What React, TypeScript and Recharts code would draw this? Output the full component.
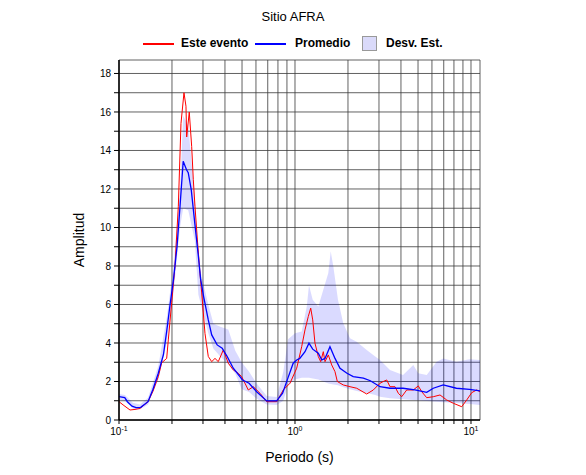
import React from "react";
import { ComposedChart, Line, Area, XAxis, YAxis, CartesianGrid } from "recharts";

const redPeriods = [0.1, 0.1067, 0.1155, 0.1233, 0.1316, 0.1462, 0.156, 0.1672, 0.1748, 0.1866, 0.1906, 0.1992, 0.208, 0.2173, 0.225, 0.234, 0.2402, 0.2424, 0.2508, 0.2588, 0.2643, 0.2702, 0.2786, 0.2886, 0.2951, 0.308, 0.3216, 0.3363, 0.3511, 0.3665, 0.3915, 0.4178, 0.446, 0.4762, 0.4979, 0.5428, 0.5795, 0.6327, 0.6905, 0.787, 0.858, 0.9367, 1.0225, 1.0915, 1.1397, 1.1902, 1.2281, 1.2608, 1.2988, 1.3563, 1.3996, 1.4481, 1.4807, 1.5461, 1.6163, 1.6876, 1.7395, 1.8806, 2.0535, 2.242, 2.5552, 2.7861, 3.0409, 3.1754, 3.3196, 3.4654, 3.6997, 3.8637, 4.0394, 4.3129, 4.7007, 5.019, 5.2472, 5.6016, 6.1066, 6.6681, 7.2778, 7.933, 8.8564, 9.454, 10.093, 10.775, 11.25];
const redValues = [0.95, 0.75, 0.52, 0.55, 0.6, 0.95, 1.5, 2.25, 2.97, 3.2, 4.16, 6.1, 8.0, 11.1, 15.4, 17.0, 16.3, 14.7, 16.0, 14.2, 12.5, 11.1, 9.4, 7.6, 6.6, 4.5, 3.3, 3.03, 3.2, 3.03, 3.64, 2.95, 2.6, 2.43, 2.25, 1.56, 1.73, 1.39, 0.95, 0.95, 1.56, 1.91, 2.69, 3.81, 4.68, 5.38, 5.81, 5.2, 3.99, 3.3, 3.03, 3.55, 3.03, 3.38, 2.86, 2.51, 2.0, 1.82, 1.73, 1.65, 1.35, 1.56, 1.91, 2.0, 2.08, 1.73, 1.73, 1.39, 1.21, 1.56, 1.56, 1.77, 1.47, 1.16, 1.21, 1.3, 1.04, 0.87, 0.69, 1.04, 1.42, 1.56, 1.47];

const bluePeriods = [0.1, 0.1078, 0.1116, 0.1186, 0.1249, 0.1328, 0.1462, 0.156, 0.1672, 0.1789, 0.1866, 0.1951, 0.204, 0.2136, 0.2222, 0.2282, 0.2316, 0.2419, 0.2474, 0.2573, 0.2697, 0.2825, 0.2911, 0.3028, 0.3216, 0.3363, 0.3612, 0.3857, 0.4118, 0.446, 0.5035, 0.5485, 0.6056, 0.6905, 0.787, 0.8502, 0.9133, 0.9766, 1.0225, 1.0645, 1.1397, 1.2006, 1.2608, 1.3563, 1.4195, 1.4807, 1.58, 1.6876, 1.8017, 1.9743, 2.1422, 2.4468, 2.6796, 3.0409, 3.4654, 4.1089, 4.8017, 5.6016, 6.1066, 6.9543, 8.2611, 9.8011, 11.25];
const blueValues = [1.21, 1.16, 0.95, 0.72, 0.64, 0.66, 0.95, 1.6, 2.43, 3.4, 4.6, 6.0, 7.3, 9.0, 11.1, 12.6, 13.44, 13.0, 12.85, 11.97, 10.2, 8.5, 7.3, 6.4, 5.2, 4.42, 3.9, 3.73, 3.3, 2.69, 2.08, 1.91, 1.47, 0.99, 0.99, 1.39, 2.2, 2.95, 3.12, 3.2, 3.55, 3.99, 3.68, 3.47, 3.12, 3.2, 3.81, 3.2, 2.69, 2.43, 2.25, 2.17, 2.04, 1.73, 1.65, 1.65, 1.56, 1.44, 1.65, 1.82, 1.65, 1.59, 1.51];

const bandPeriods = [0.1, 0.1081, 0.1198, 0.1316, 0.1462, 0.1672, 0.1866, 0.204, 0.2222, 0.2316, 0.2474, 0.2697, 0.2825, 0.3216, 0.3441, 0.3765, 0.4178, 0.4579, 0.4979, 0.5485, 0.6056, 0.6905, 0.787, 0.858, 0.9133, 1.0, 1.0915, 1.1666, 1.2006, 1.2608, 1.3563, 1.4481, 1.5461, 1.5955, 1.6508, 1.7548, 1.8806, 2.0535, 2.242, 2.5552, 2.8576, 3.0409, 3.4654, 4.1089, 4.7007, 5.019, 5.6016, 6.3804, 6.9543, 8.2611, 9.8011, 11.25];
const bandLow = [1.05, 1.0, 0.6, 0.55, 0.8, 2.1, 4.0, 6.6, 10.0, 11.0, 10.9, 9.3, 6.5, 4.5, 3.7, 3.3, 2.9, 2.4, 1.6, 1.45, 1.1, 0.8, 0.78, 1.0, 1.8, 2.1, 2.2, 2.2, 2.2, 2.15, 2.1, 2.0, 1.9, 1.87, 1.85, 1.8, 1.7, 1.6, 1.5, 1.4, 1.3, 1.21, 1.13, 1.08, 1.04, 1.02, 0.99, 0.95, 0.92, 0.88, 0.83, 0.78];
const bandHigh = [1.35, 1.3, 0.9, 0.8, 1.15, 2.8, 5.3, 8.0, 12.0, 15.8, 15.3, 11.5, 8.2, 6.0, 5.0, 4.85, 4.7, 3.6, 3.0, 2.5, 1.9, 1.25, 1.2, 2.5, 4.2, 4.5, 4.6, 5.9, 7.0, 6.24, 5.9, 6.76, 7.63, 8.76, 7.98, 6.24, 5.03, 4.25, 4.07, 3.64, 3.3, 3.12, 2.6, 2.34, 2.86, 2.43, 2.34, 3.03, 3.2, 3.03, 3.16, 3.12];

const xTicks = [0.1, 0.2, 0.3, 0.4, 0.5, 0.6, 0.7, 0.8, 0.9, 1, 2, 3, 4, 5, 6, 7, 8, 9, 10];
const xDecadeLabels: Record<string, string> = { "0.1": "-1", "1": "0", "10": "1" };
const yTicks = [0, 1, 2, 3, 4, 5, 6, 7, 8, 9, 10, 11, 12, 13, 14, 15, 16, 17, 18];

const title = "Sitio AFRA";
const xLabel = "Periodo (s)";
const yLabel = "Amplitud";
const legendRed = "Este evento";
const legendBlue = "Promedio";
const legendBand = "Desv. Est.";

const redData = redPeriods.map((p, i) => ({ p, v: redValues[i] }));
const blueData = bluePeriods.map((p, i) => ({ p, v: blueValues[i] }));
const bandData = bandPeriods.map((p, i) => ({ p, r: [bandLow[i], bandHigh[i]] }));

const FONT = "'Liberation Sans', Arial, Helvetica, sans-serif";

const XTick = (props: any) => {
  const { x, y, payload } = props;
  const e = xDecadeLabels[String(payload.value)];
  if (e === undefined) return <g />;
  return (
    <text x={x} y={y + 9} textAnchor="middle" fontSize={10} fontFamily={FONT} fill="#000">
      <tspan>10</tspan>
      <tspan dy={-4} fontSize={7}>{e}</tspan>
    </text>
  );
};

const YTick = (props: any) => {
  const { x, y, payload } = props;
  if (payload.value % 2 !== 0) return <g />;
  return (
    <text x={x - 1} y={y + 4} textAnchor="end" fontSize={10} fontFamily={FONT} fill="#000">
      {payload.value}
    </text>
  );
};

export default function App() {
  return (
    <div style={{ position: "absolute", left: 0, top: 0, width: 586, height: 475, background: "#fff", fontFamily: FONT }}>
      <div style={{ position: "absolute", left: 0, top: 9, width: 586, textAlign: "center", fontSize: 13 }}>{title}</div>
      <div style={{ position: "absolute", left: 0, top: 36, width: 586, height: 16, fontSize: 12, fontWeight: "bold" }}>
        <div style={{ position: "absolute", left: 143, top: 7, width: 31, height: 2, background: "#ff0000" }} />
        <div style={{ position: "absolute", left: 181, top: 0 }}>{legendRed}</div>
        <div style={{ position: "absolute", left: 255, top: 7, width: 31, height: 2, background: "#0000ff" }} />
        <div style={{ position: "absolute", left: 295, top: 0 }}>{legendBlue}</div>
        <div style={{ position: "absolute", left: 362, top: 0, width: 13, height: 13, background: "#dadafa", border: "1px solid #999" }} />
        <div style={{ position: "absolute", left: 386, top: 0 }}>{legendBand}</div>
      </div>
      <ComposedChart width={586} height={475} margin={{ top: 60, right: 106, bottom: 30, left: 79 }} style={{ position: "absolute", left: 0, top: 0 }}>
        <CartesianGrid stroke="#3a3a3a" strokeWidth={0.8} />
        <XAxis
          dataKey="p"
          type="number"
          scale="log"
          domain={[0.1, 11.25]}
          allowDataOverflow
          ticks={xTicks}
          interval={0}
          tick={<XTick />}
          tickSize={4}
          tickLine={{ stroke: "#000" }}
          axisLine={{ stroke: "#000", strokeWidth: 1.5 }}
          height={25}
          label={{ value: xLabel, position: "insideBottom", offset: -17, fontSize: 14, fill: "#000", fontFamily: FONT }}
        />
        <XAxis
          xAxisId="top"
          orientation="top"
          dataKey="p"
          type="number"
          scale="log"
          domain={[0.1, 11.25]}
          allowDataOverflow
          ticks={xTicks}
          interval={0}
          tick={false}
          tickSize={4}
          tickLine={{ stroke: "#000" }}
          axisLine={{ stroke: "#000", strokeWidth: 1.5 }}
          height={0}
        />
        <YAxis
          type="number"
          domain={[0, 18.7]}
          allowDataOverflow
          ticks={yTicks}
          interval={0}
          tick={<YTick />}
          tickSize={5}
          tickLine={{ stroke: "#000" }}
          axisLine={{ stroke: "#000", strokeWidth: 1.5 }}
          width={40}
          label={{ value: yLabel, angle: -90, position: "insideLeft", offset: 0, dx: 0, fontSize: 14, fill: "#000", fontFamily: FONT, style: { textAnchor: "middle" } }}
        />
        <YAxis
          yAxisId="right"
          orientation="right"
          type="number"
          domain={[0, 18.7]}
          allowDataOverflow
          ticks={yTicks}
          interval={0}
          tick={false}
          tickSize={3}
          tickLine={{ stroke: "#000" }}
          axisLine={{ stroke: "#000", strokeWidth: 1.5 }}
          width={0}
        />
        <Area data={bandData} dataKey="r" type="linear" stroke="none" fill="#0000ff" fillOpacity={0.145} isAnimationActive={false} />
        <Line data={redData} dataKey="v" type="linear" stroke="#ff0000" strokeWidth={1} dot={false} isAnimationActive={false} />
        <Line data={blueData} dataKey="v" type="linear" stroke="#0000ff" strokeWidth={1.3} dot={false} isAnimationActive={false} />
      </ComposedChart>
    </div>
  );
}
